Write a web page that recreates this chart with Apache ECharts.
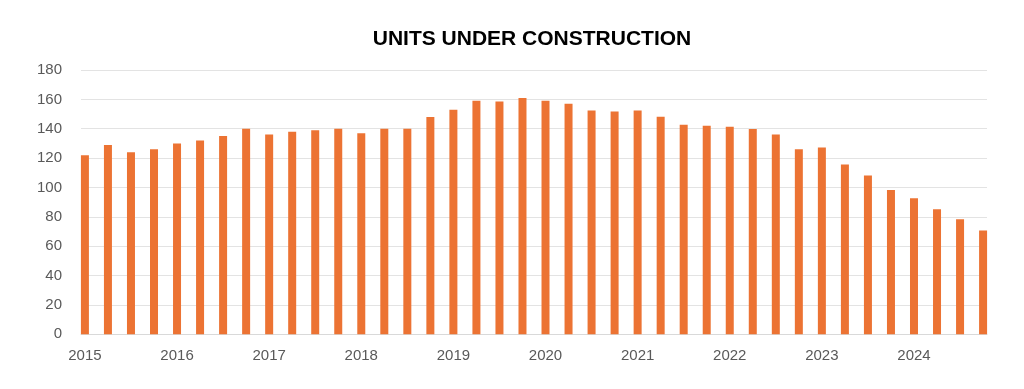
<!DOCTYPE html>
<html>
<head>
<meta charset="utf-8">
<script src="https://cdn.jsdelivr.net/npm/echarts@6/dist/echarts.min.js"></script>
<style>html,body{margin:0;padding:0;background:#fff;}#chart{width:1024px;height:389px;}</style>
</head>
<body>
<div id="chart"></div>
<script>
const titleText = 'UNITS UNDER CONSTRUCTION';
const quarters = [];
const years = ['2015','2016','2017','2018','2019','2020','2021','2022','2023','2024'];
years.forEach(y => ['Q1','Q2','Q3','Q4'].forEach(q => quarters.push(y + ' ' + q)));
const units = [122,129,124,126,130,132,135,140,136,138,139,140,137,140,140,148,153,159,158.6,161,159,157,152.5,151.8,152.5,148.2,142.7,142,141.4,139.8,136,126,127.3,115.7,108.2,98.2,92.7,85.2,78.4,70.7];
const yTicks = [0,20,40,60,80,100,120,140,160,180];
const labelIdx = years.map((y, i) => i * 4);

const chart = echarts.init(document.getElementById('chart'), null, {renderer: 'canvas'});
const font = 'Liberation Sans, Arial, Helvetica, sans-serif';
chart.setOption({
  animation: false,
  backgroundColor: '#ffffff',
  title: {
    text: titleText,
    left: 527, top: 24, textAlign: 'center',
    textStyle: {fontFamily: font, fontSize: 21, fontWeight: 'bold', color: '#000000'}
  },
  grid: {left: 81, right: 37, top: 70, bottom: 54.7, containLabel: false},
  xAxis: {
    type: 'value',
    min: -0.17, max: 39.17,
    splitLine: {show: false},
    axisLine: {show: true, lineStyle: {color: '#d9d9d9', width: 1}},
    axisTick: {show: false},
    axisLabel: {
      customValues: labelIdx,
      showMinLabel: true, showMaxLabel: true,
      margin: 14,
      fontFamily: font, fontSize: 15, color: '#595959',
      formatter: v => quarters[Math.round(v)] ? quarters[Math.round(v)].slice(0, 4) : ''
    }
  },
  yAxis: {
    type: 'value',
    min: yTicks[0], max: yTicks[yTicks.length - 1], interval: 20,
    axisLine: {show: false},
    axisTick: {show: false},
    splitLine: {lineStyle: {color: '#e3e3e3', width: 1}},
    axisLabel: {margin: 19, fontFamily: font, fontSize: 15, color: '#595959'}
  },
  series: [{
    type: 'bar',
    data: units.map((v, i) => [i, v]),
    barWidth: 8,
    clip: false,
    itemStyle: {color: '#EC7333'}
  }]
});
</script>
</body>
</html>
